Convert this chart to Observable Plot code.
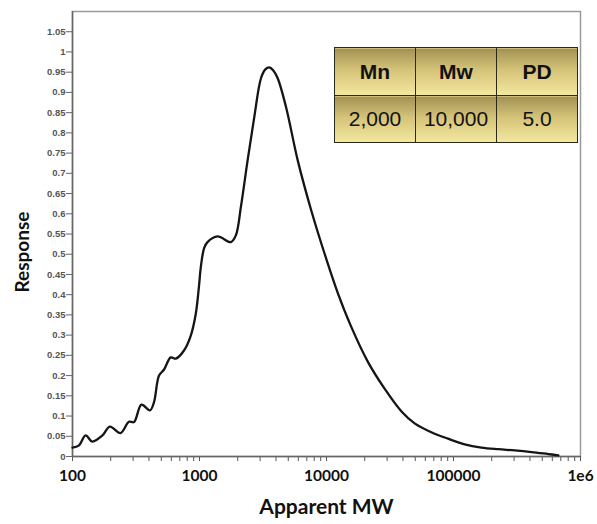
<!DOCTYPE html>
<html>
<head>
<meta charset="utf-8">
<script src="https://cdn.jsdelivr.net/npm/d3@7"></script>
<script src="https://cdn.jsdelivr.net/npm/@observablehq/plot@0.6"></script>
<style>
  html, body { margin: 0; padding: 0; background: #fff; }
  #wrap { position: relative; width: 597px; height: 524px; overflow: hidden; }
  #tbl { position: absolute; left: 334px; top: 47px; border-collapse: collapse;
         font-family: "Liberation Sans", Arial, sans-serif; }
  #tbl td { border: 1.5px solid #2a2a1a; text-align: center; color: #111;
            background: linear-gradient(#a39154, #d4c378 45%, #f4e8a0); padding: 0; }
  #tbl tr.h td { font-weight: bold; font-size: 21px; height: 47px; }
  #tbl tr.b td { font-size: 21px; height: 46px; }
</style>
</head>
<body>
<div id="wrap"></div>
<script>
// Curve data (apparent MW vs. detector response)
const mw = [100, 112, 127, 143, 172, 197, 239, 278, 305, 349, 407, 438, 480, 526, 594, 651, 755, 854, 935, 990,
  1024, 1087, 1156, 1387, 1766, 1935, 2118, 2392, 2699, 3048, 3300, 3540, 3800, 4127, 4800, 5936, 7556, 9622,
  12280, 15640, 21180, 28640, 38810, 49430, 66950, 90600, 122500, 166000, 224900, 304300, 412000, 558000, 669500];
const response = [0.022, 0.027, 0.052, 0.037, 0.052, 0.074, 0.058, 0.086, 0.085, 0.128, 0.114, 0.134, 0.200, 0.215,
  0.245, 0.242, 0.262, 0.299, 0.353, 0.420, 0.468, 0.515, 0.530, 0.544, 0.530, 0.547, 0.617, 0.732, 0.839, 0.935,
  0.957, 0.962, 0.955, 0.935, 0.864, 0.732, 0.610, 0.503, 0.404, 0.321, 0.234, 0.168, 0.112, 0.082, 0.060, 0.044,
  0.030, 0.022, 0.018, 0.015, 0.011, 0.006, 0.003];

// Axis ticks
const xMajor = [100, 1000, 10000, 100000, 1000000];
const xMajorLabels = ["100", "1000", "10000", "100000", "1e6"];
const xMinorMult = [2, 3, 4, 5, 6, 7, 8, 9];
const yTicks = [0, 0.05, 0.1, 0.15, 0.2, 0.25, 0.3, 0.35, 0.4, 0.45, 0.5, 0.55, 0.6, 0.65, 0.7, 0.75, 0.8, 0.85, 0.9, 0.95, 1, 1.05];
const yTickLabels = ["0", "0.05", "0.1", "0.15", "0.2", "0.25", "0.3", "0.35", "0.4", "0.45", "0.5", "0.55", "0.6", "0.65", "0.7", "0.75", "0.8", "0.85", "0.9", "0.95", "1", "1.05"];

// Summary table
const tableHeaders = ["Mn", "Mw", "PD"];
const tableValues = ["2,000", "10,000", "5.0"];

const xMinor = [];
for (const d of xMajor.slice(0, -1)) for (const m of xMinorMult) xMinor.push(d * m);
const points = mw.map((m, i) => ({mw: m, r: response[i]}));

const chart = Plot.plot({
  width: 597,
  height: 524,
  marginLeft: 72,
  marginRight: 17,
  marginTop: 11,
  marginBottom: 68,
  style: {background: "#fff", fontFamily: "Lato, 'Open Sans', sans-serif"},
  x: {type: "log", domain: [100, 1e6]},
  y: {domain: [0, 1.1]},
  marks: [
    Plot.frame({stroke: "#9a9a9a", strokeWidth: 1.5}),
    Plot.axisY({ticks: yTicks, tickSize: 6, tickPadding: 1, stroke: "#666",
      tickFormat: (d) => yTickLabels[yTicks.indexOf(d)] ?? "",
      fontSize: 9.5, fontWeight: "bold", fontFamily: "'Liberation Sans', Arial, sans-serif", fill: "#555", label: null}),
    Plot.axisX({ticks: xMinor, tickSize: 5, tickFormat: () => "", stroke: "#555", label: null}),
    Plot.axisX({ticks: xMajor, tickSize: 5, tickPadding: 8, stroke: "#555",
      tickFormat: d => xMajorLabels[xMajor.indexOf(d)],
      fontSize: 15.5, fontWeight: "bold", fill: "#111", label: null}),
    Plot.ruleX([100], {stroke: "#666", strokeWidth: 1.5}),
    Plot.ruleY([0], {stroke: "#666", strokeWidth: 1.5}),
    Plot.line(points, {x: "mw", y: "r", curve: "catmull-rom", stroke: "#151515", strokeWidth: 2.3}),
    Plot.text(["Apparent MW"], {frameAnchor: "bottom", dy: 57, fontSize: 21, fontWeight: "bold", fill: "#111"}),
    Plot.text(["Response"], {frameAnchor: "left", textAnchor: "middle", dx: -50, dy: 18, rotate: -90, fontSize: 19, fontWeight: "bold", fill: "#111"})
  ]
});

const wrap = document.getElementById("wrap");
wrap.appendChild(chart);

const tbl = document.createElement("table");
tbl.id = "tbl";
const hr = tbl.insertRow(); hr.className = "h";
tableHeaders.forEach(h => { const c = hr.insertCell(); c.textContent = h; c.style.width = "80px"; });
const br = tbl.insertRow(); br.className = "b";
tableValues.forEach(v => { const c = br.insertCell(); c.textContent = v; });
wrap.appendChild(tbl);
</script>
</body>
</html>
